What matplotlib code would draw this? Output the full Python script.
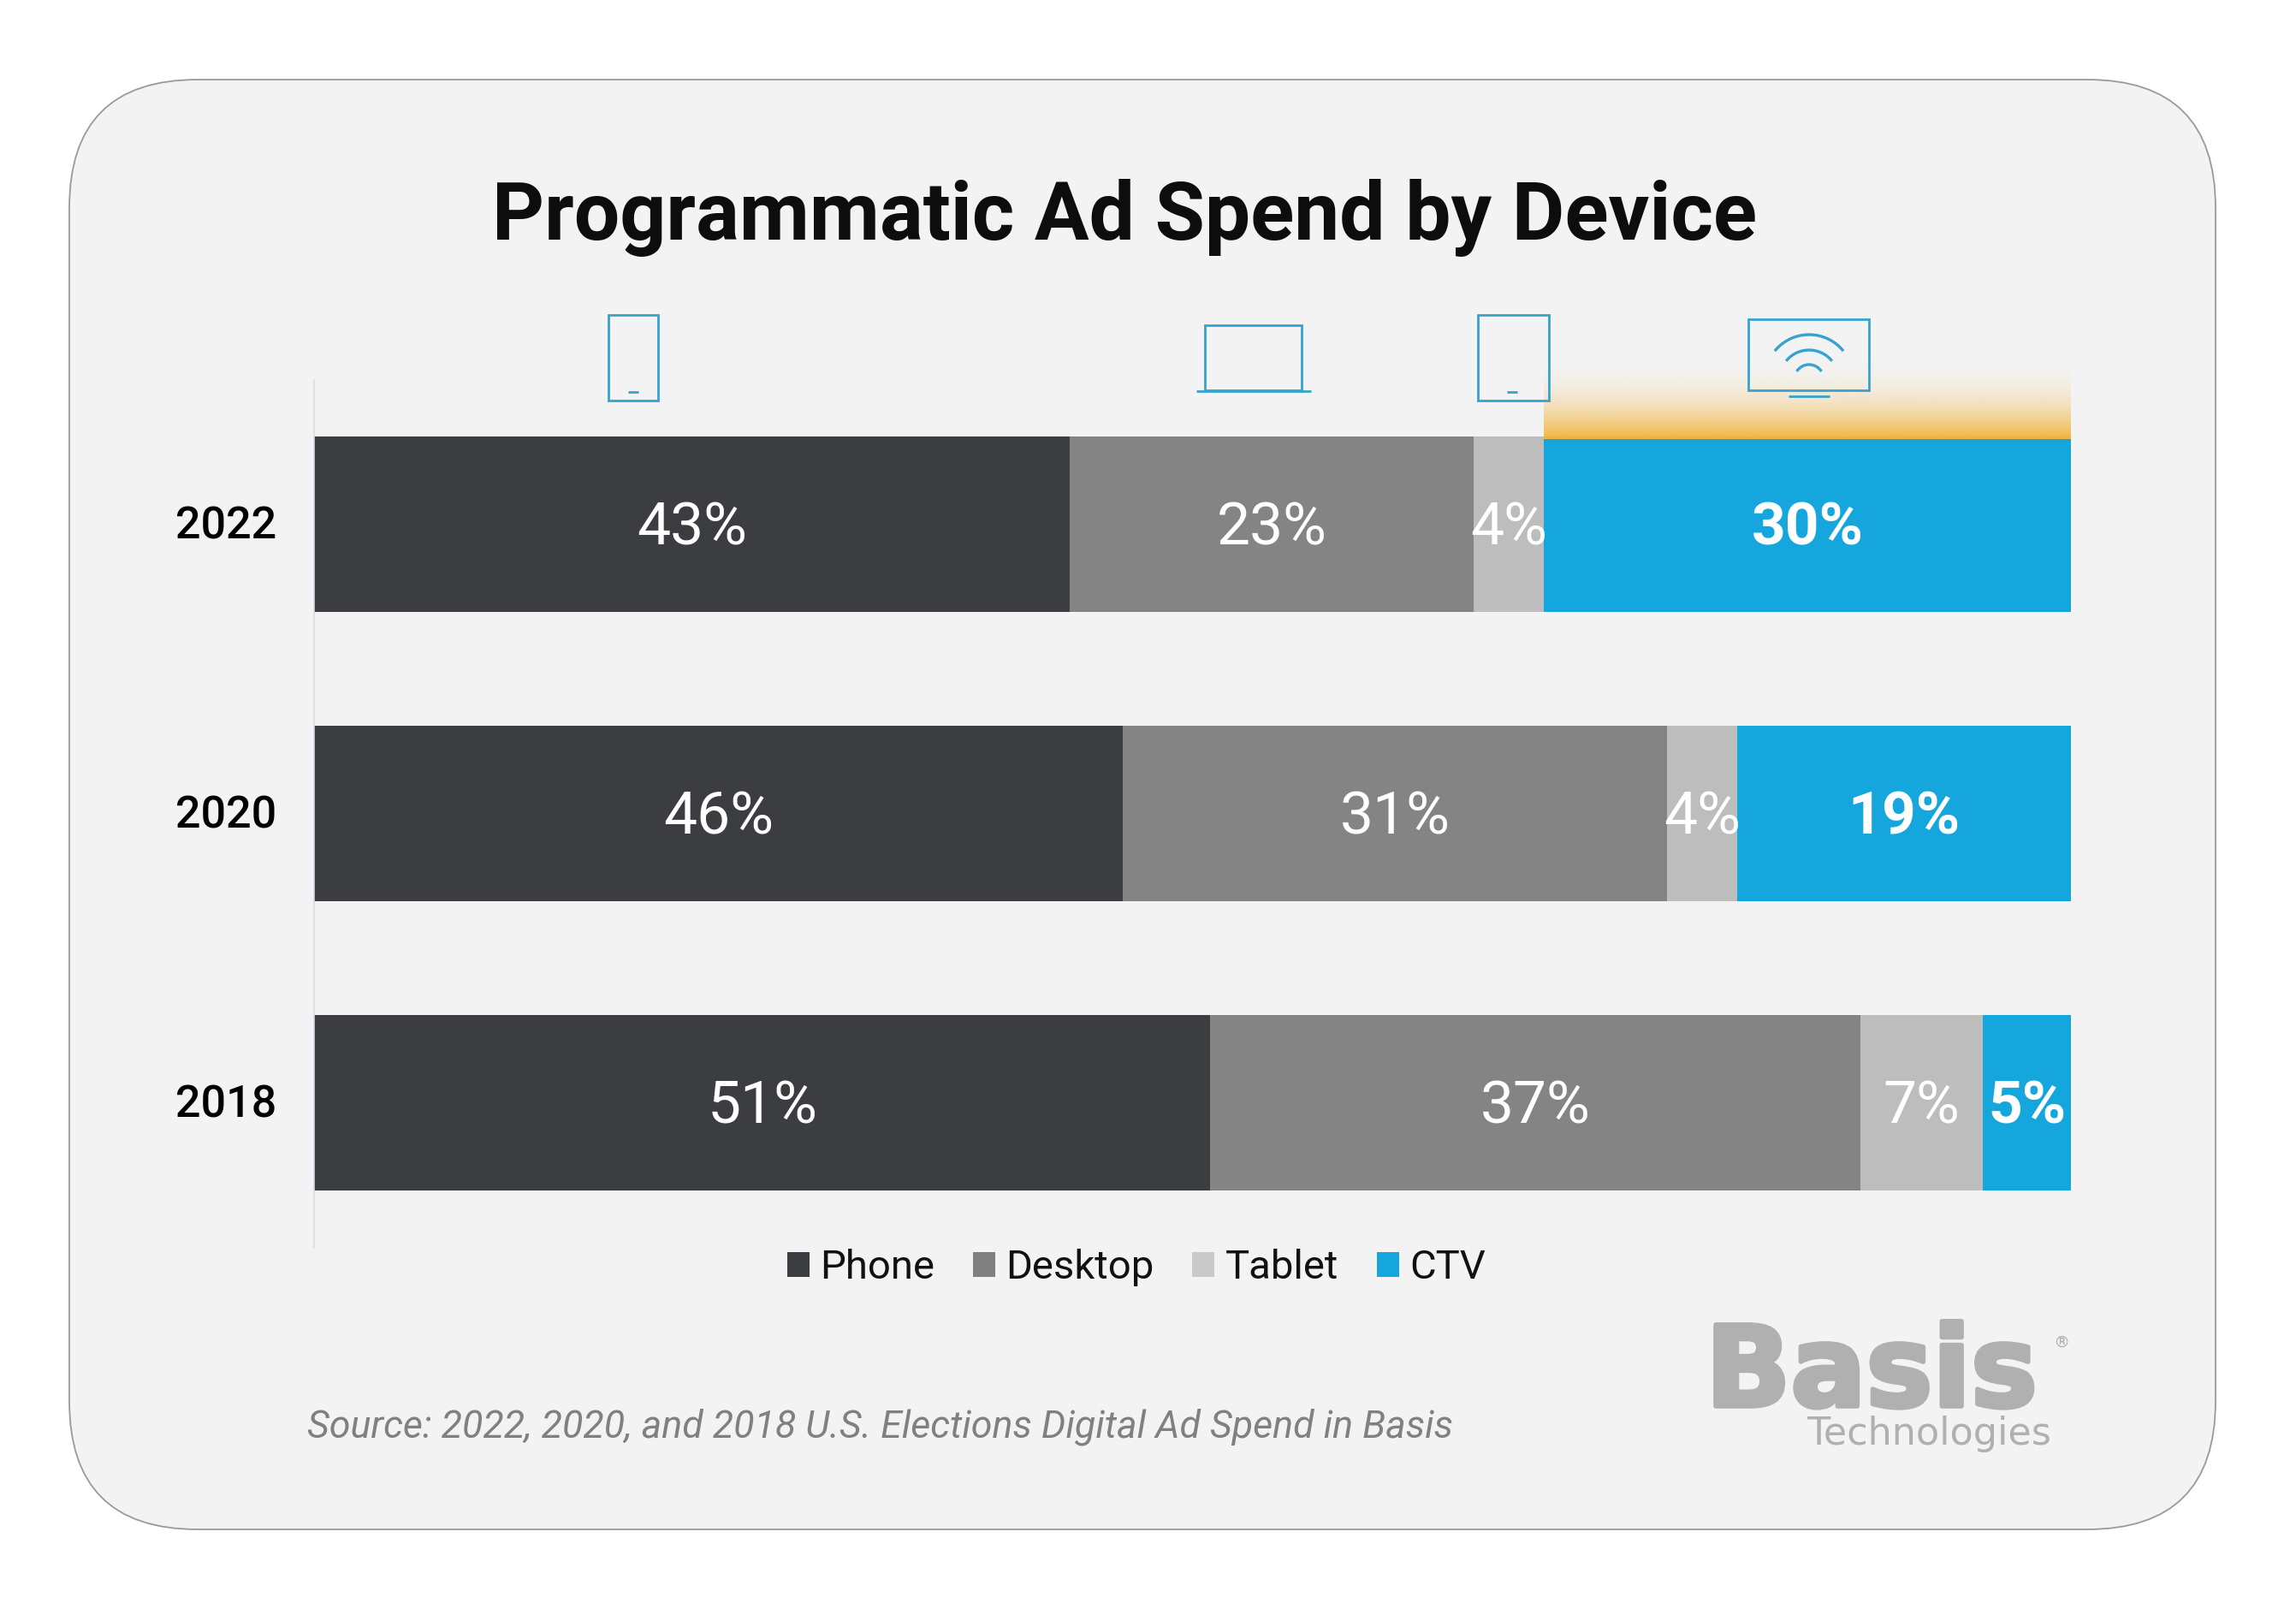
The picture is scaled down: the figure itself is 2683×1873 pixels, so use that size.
import numpy as np
import matplotlib
matplotlib.use("Agg")
import matplotlib.pyplot as plt
import matplotlib.patheffects as pe
from matplotlib.patches import FancyBboxPatch, Rectangle, Patch, Arc
from matplotlib.transforms import ScaledTranslation

years = ["2018", "2020", "2022"]
series_names = ["Phone", "Desktop", "Tablet", "CTV"]
phone = [51, 46, 43]
desktop = [37, 31, 23]
tablet = [7, 4, 4]
ctv = [5, 19, 30]
series_values = [phone, desktop, tablet, ctv]
bar_colors = ["#3c3d41", "#848484", "#bdbdbd", "#14a6dc"]
legend_colors = ["#3c3d41", "#808080", "#c9c9c9", "#14a6dc"]
title = "Programmatic Ad Spend by Device"
source = "Source: 2022, 2020, and 2018 U.S. Elections Digital Ad Spend in Basis"

W, H = 2683, 1873
FONT = "Roboto"
fig = plt.figure(figsize=(W / 100, H / 100), dpi=100, facecolor="white")


def px_axes(x0, y0, x1, y1, z):
    return fig.add_axes([x0 / W, 1 - y1 / H, (x1 - x0) / W, (y1 - y0) / H], zorder=z)


# Card background (pixel coordinates, y down)
bg = px_axes(0, 0, W, H, 0)
bg.set_xlim(0, W); bg.set_ylim(H, 0); bg.axis("off")
bg.add_patch(FancyBboxPatch((81, 93), 2508, 1694,
                            boxstyle="round,pad=0,rounding_size=150",
                            fc="#f3f3f3", ec="#9a9a9a", lw=1.3))

# Bars
ax = px_axes(367.5, 443.5, 2420, 1457.5, 1)
ax.patch.set_alpha(0)
for s in ["top", "right", "bottom"]:
    ax.spines[s].set_visible(False)
ax.spines["left"].set_color("#d8dbe8")
ax.spines["left"].set_linewidth(1.2)
y = np.arange(len(years))
left = np.zeros(len(years))
bar_h = 0.606
for name, vals, col in zip(series_names, series_values, bar_colors):
    vals = np.array(vals, float)
    ax.barh(y, vals, left=left, height=bar_h, color=col, linewidth=0)
    for yi, v, l in zip(y, vals, left):
        ax.text(l + v / 2, yi - 0.016, f"{int(v)}%", color="white", ha="center", va="center",
                fontsize=50, family=FONT, weight="bold" if name == "CTV" else "normal")
    left += vals
ax.set_xlim(0, 100)
ax.set_ylim(-0.5, 2.5)
ax.set_xticks([])
ax.set_yticks(y, years, fontsize=37.5, family=FONT, weight="medium", color="black")
ax.tick_params(axis="y", length=0, pad=32)
for lab in ax.get_yticklabels():
    lab.set_transform(lab.get_transform() + ScaledTranslation(0, 3 / 100, fig.dpi_scale_trans))

# Glow above the CTV segment of 2022
grad = np.zeros((100, 1, 4))
grad[..., :3] = matplotlib.colors.to_rgb("#f3b53d")
grad[..., 3] = (np.linspace(0, 1, 100) ** 2.4)[:, None]
g_left = phone[2] + desktop[2] + tablet[2]
ax.imshow(grad, extent=(g_left, 100, 2 + bar_h / 2 - 0.009, 2 + bar_h / 2 + 0.29),
          aspect="auto", origin="upper", zorder=3, interpolation="bilinear", clip_on=False)
ax.set_xlim(0, 100)
ax.set_ylim(-0.5, 2.5)

# Legend
handles = [Patch(fc=c, ec="none") for c in legend_colors]
fig.legend(handles, series_names, loc="center", bbox_to_anchor=(1328 / W, 1 - 1481 / H),
           ncols=4, frameon=False, prop={"family": FONT, "size": 34},
           handlelength=0.55, handleheight=0.55, handletextpad=0.27,
           columnspacing=0.94, borderpad=0, labelcolor="#111111")

# Text
fig.text(1314 / W, 1 - 255 / H, title, ha="center", va="center", fontsize=68.2,
         family=FONT, weight="bold", color="#0d0d0d")
fig.text(359 / W, 1 - 1667 / H, source, ha="left", va="center", fontsize=32.2,
         family=FONT, style="italic", color="#808080")
logo = fig.text(1993 / W, 1 - 1643 / H, "Basis", ha="left", va="baseline", fontsize=94,
                family="DejaVu Sans", weight="bold", color="#b0b0b0")
logo.set_path_effects([pe.withStroke(linewidth=4, foreground="#b0b0b0")])
fig.text(2397 / W, 1 - 1688 / H, "Technologies", ha="right", va="baseline", fontsize=32,
         family="DejaVu Sans", color="#b0b0b0")
fig.text(2409 / W, 1 - 1569 / H, "®", ha="center", va="center", fontsize=14,
         family=FONT, color="#b0b0b0")

# Device icons
ic = px_axes(0, 0, W, H, 2)
ic.set_xlim(0, W); ic.set_ylim(H, 0); ic.axis("off")
C = "#36a3cf"
LW = 2.0
def box(x0, y0, x1, y1):
    ic.add_patch(Rectangle((x0, y0), x1 - x0, y1 - y0, fc="none", ec=C, lw=LW))
def dash(x0, x1, yy, lw=LW):
    ic.plot([x0, x1], [yy, yy], color=C, lw=lw, solid_capstyle="butt")
box(711, 368, 769, 468); dash(734, 746, 458)
box(1408, 380, 1521, 456); dash(1398, 1532, 457)
box(1727, 368, 1810, 468); dash(1761, 1773, 458)
box(2043, 373, 2184, 456); dash(2090, 2138, 463)
for apex, r, half in [(391, 51.6, 51), (409, 34.5, 51), (426, 17, 58)]:
    ic.add_patch(Arc((2114, apex + r), 2 * r, 2 * r, theta1=270 - half, theta2=270 + half,
                     color=C, lw=LW + 0.4))

fig.savefig("out.png", dpi=100, facecolor="white")
